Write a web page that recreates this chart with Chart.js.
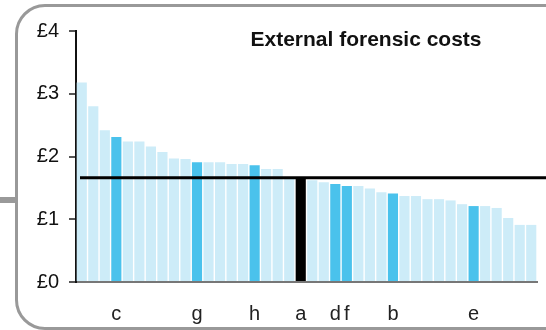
<!DOCTYPE html>
<html>
<head>
<meta charset="utf-8">
<script src="https://cdn.jsdelivr.net/npm/chart.js@4/dist/chart.umd.min.js"></script>
<style>
  html, body { margin: 0; padding: 0; background: #fff; }
  #wrap { position: relative; width: 546px; height: 330px; overflow: hidden; }
  #box {
    position: absolute; left: 15px; top: 4px; width: 570px; height: 320px;
    border: 3px solid #999; border-radius: 30px;
  }
  #stub { position: absolute; left: 0; top: 197px; width: 16px; height: 6px; background: #999; }
  canvas { position: absolute; left: 0; top: 0; }
</style>
</head>
<body>
<div id="wrap">
  <div id="box"></div>
  <div id="stub"></div>
  <canvas id="chart" width="546" height="330"></canvas>
</div>
<script>
// Costs per organisation, sorted high to low (£)
const costs = [
  3.18, 2.80, 2.42, 2.31, 2.24, 2.24, 2.16, 2.07, 1.97, 1.96,
  1.91, 1.91, 1.91, 1.88, 1.88, 1.86, 1.80, 1.80, 1.65, 1.65,
  1.62, 1.59, 1.56, 1.53, 1.53, 1.49, 1.43, 1.41, 1.37, 1.37,
  1.32, 1.32, 1.30, 1.24, 1.21, 1.21, 1.18, 1.02, 0.91, 0.91
];
// only the named organisations get a label
const labels = [
  '', '', '', 'c', '', '', '', '', '', '',
  'g', '', '', '', '', 'h', '', '', '', 'a',
  '', '', 'd', 'f', '', '', '', 'b', '', '',
  '', '', '', '', 'e', '', '', '', '', ''
];
const average = 1.66;
const yTicks = [0, 1, 2, 3, 4];
const title = 'External forensic costs';

const FONT = '"Liberation Sans", Arial, Helvetica, sans-serif';
const LIGHT = '#cdecf8';
const DARK = '#4ac2ec';

const barColors = labels.map(l => l === 'a' ? '#000000' : (l ? DARK : LIGHT));

// horizontal average line + title text
const overlay = {
  id: 'overlay',
  afterDatasetsDraw(chart) {
    const { ctx, chartArea, scales } = chart;
    const y = scales.y.getPixelForValue(average);
    ctx.save();
    ctx.strokeStyle = '#000';
    ctx.lineWidth = 3;
    ctx.beginPath();
    ctx.moveTo(chartArea.left + 4, y);
    ctx.lineTo(chart.width, y);
    ctx.stroke();

    ctx.fillStyle = '#111';
    ctx.font = 'bold 21px ' + FONT;
    ctx.textAlign = 'center';
    ctx.textBaseline = 'middle';
    ctx.fillText(title, 366, scales.y.getPixelForValue(3.85));
    ctx.restore();
  }
};

new Chart(document.getElementById('chart'), {
  type: 'bar',
  data: {
    labels: labels,
    datasets: [{
      data: costs,
      backgroundColor: barColors,
      borderWidth: 0,
      barPercentage: 0.88,
      categoryPercentage: 1.0
    }]
  },
  options: {
    responsive: false,
    animation: false,
    devicePixelRatio: 1,
    layout: { padding: { top: 31, right: 9, left: 0, bottom: 0 } },
    plugins: { legend: { display: false }, tooltip: { enabled: false }, title: { display: false } },
    scales: {
      x: {
        grid: { display: false, drawTicks: false },
        border: { display: true, color: '#777', width: 2 },
        ticks: {
          autoSkip: false, maxRotation: 0, minRotation: 0,
          padding: 20, color: '#222',
          font: { family: FONT, size: 20 }
        },
        afterFit(scale) {
          scale.height = 48;
          // tick padding should not push the plot edges in
          scale.paddingLeft = 0;
          scale.paddingRight = 0;
        }
      },
      y: {
        min: 0, max: 4,
        afterBuildTicks(scale) { scale.ticks = yTicks.map(v => ({ value: v })); },
        grid: { drawOnChartArea: false, drawTicks: true, tickLength: 7, color: '#555', lineWidth: 2 },
        border: { display: true, color: '#111', width: 2 },
        ticks: {
          padding: 10, color: '#111',
          font: { family: FONT, size: 20 },
          callback: v => '£' + v
        },
        afterFit(scale) { scale.width = 76; }
      }
    }
  },
  plugins: [overlay]
});
</script>
</body>
</html>
